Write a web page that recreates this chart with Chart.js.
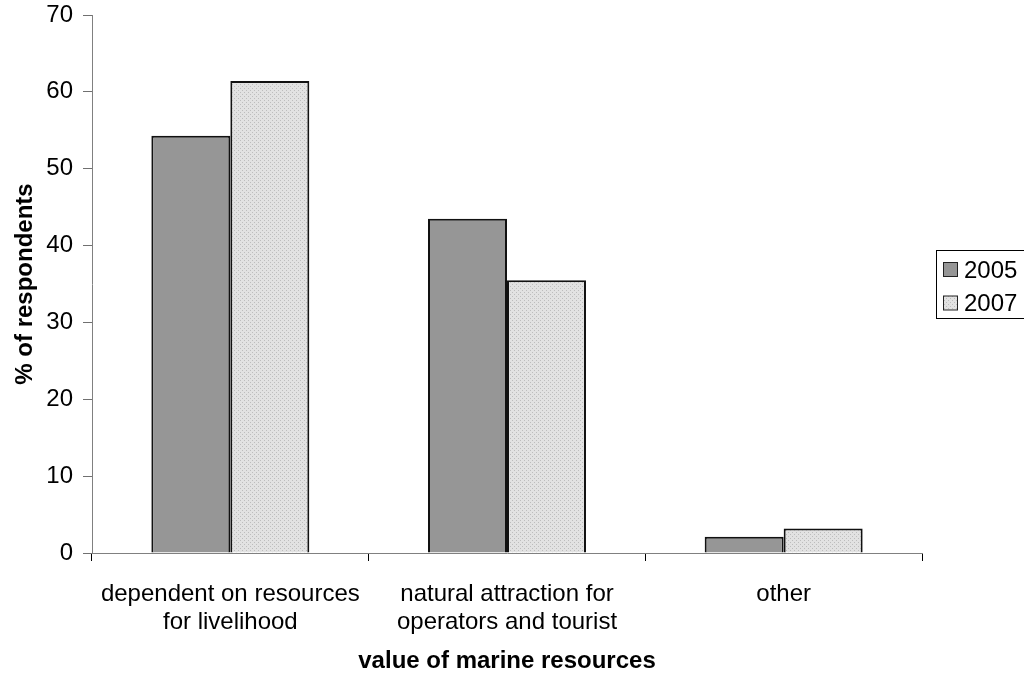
<!DOCTYPE html>
<html>
<head>
<meta charset="utf-8">
<title>value of marine resources</title>
<script src="https://cdn.jsdelivr.net/npm/chart.js@4/dist/chart.umd.min.js"></script>
<style>
  html, body { margin: 0; padding: 0; background: #ffffff; }
  #wrap { width: 1024px; height: 674px; }
</style>
</head>
<body>
<div id="wrap"><canvas id="chart" width="1024" height="674"></canvas></div>
<script>
// Categories (multi-line tick labels) and survey results per year
const categories = [
  ["dependent on resources", "for livelihood"],
  ["natural attraction for", "operators and tourist"],
  "other"
];
const seriesNames = ["2005", "2007"];
const values2005 = [54.3, 43.5, 2.1];
const values2007 = [61.4, 35.5, 3.2];
const yTicks = [0, 10, 20, 30, 40, 50, 60, 70];

const FONT = "'Liberation Sans', Arial, Helvetica, sans-serif";

// Fine dotted light-grey fill for the 2007 bars
function dottedPattern() {
  const c = document.createElement('canvas');
  c.width = 4; c.height = 4;
  const g = c.getContext('2d');
  g.fillStyle = '#e2e2e2';
  g.fillRect(0, 0, 4, 4);
  g.fillStyle = '#bdbdbd';
  g.fillRect(0, 0, 1, 1);
  g.fillRect(2, 2, 1, 1);
  return g.createPattern(c, 'repeat');
}
const fill2007 = dottedPattern();
const fill2005 = '#969696';

// Boxed legend at the right edge
const boxedLegend = {
  id: 'boxedLegend',
  afterDraw(chart) {
    const ctx = chart.ctx;
    const x0 = 936.5, y0 = 250.5, w = 100, h = 68;
    ctx.save();
    ctx.strokeStyle = '#000';
    ctx.lineWidth = 1;
    ctx.strokeRect(x0, y0, w, h);
    ctx.font = '24px ' + FONT;
    ctx.textBaseline = 'alphabetic';
    ctx.textAlign = 'left';
    chart.data.datasets.forEach((ds, i) => {
      const sy = 262.5 + i * 33.5;
      ctx.fillStyle = ds.backgroundColor;
      ctx.fillRect(943.5, sy, 14, 14);
      ctx.strokeStyle = '#222';
      ctx.strokeRect(943.5, sy, 14, 14);
      ctx.fillStyle = '#000';
      ctx.fillText(ds.label, 964, sy + 15);
    });
    ctx.restore();
  }
};

new Chart(document.getElementById('chart'), {
  type: 'bar',
  data: {
    labels: categories,
    datasets: [
      { label: seriesNames[0], data: values2005, backgroundColor: fill2005,
        borderColor: '#111', borderWidth: 2 },
      { label: seriesNames[1], data: values2007, backgroundColor: fill2007,
        borderColor: '#111', borderWidth: 2 }
    ]
  },
  options: {
    responsive: false,
    animation: false,
    devicePixelRatio: 1,
    layout: { padding: { top: 15, right: 102, left: 0, bottom: 0 } },
    datasets: { bar: { categoryPercentage: 0.571, barPercentage: 1.0 } },
    plugins: {
      legend: { display: false },
      tooltip: { enabled: false }
    },
    scales: {
      x: {
        offset: true,
        afterFit(s) { s.height = 121; s.paddingLeft = 0; s.paddingRight = 0; },
        grid: {
          offset: true,
          drawOnChartArea: false,
          drawTicks: true,
          tickLength: 8,
          tickColor: '#000',
          color: '#000'
        },
        border: { display: true, color: '#808080', width: 1 },
        ticks: {
          color: '#000',
          padding: 19,
          maxRotation: 0,
          autoSkip: false,
          font: { family: FONT, size: 24, lineHeight: 1.18 }
        },
        title: {
          display: true,
          text: 'value of marine resources',
          color: '#000',
          padding: { top: 0, bottom: 1 },
          font: { family: FONT, size: 24, weight: 'bold', lineHeight: 1 }
        }
      },
      y: {
        min: 0,
        max: 70,
        afterFit(s) { s.width = 92; s.paddingTop = 0; s.paddingBottom = 0; },
        afterBuildTicks(s) { s.ticks = yTicks.map(v => ({ value: v })); },
        grid: {
          drawOnChartArea: false,
          drawTicks: true,
          tickLength: 9,
          tickColor: '#707070'
        },
        border: { display: true, color: '#808080', width: 1 },
        ticks: {
          color: '#000',
          padding: 10,
          font: { family: FONT, size: 24 }
        },
        title: {
          display: true,
          text: '% of respondents',
          color: '#000',
          padding: { top: 13, bottom: 0 },
          font: { family: FONT, size: 24, weight: 'bold', lineHeight: 1 }
        }
      }
    }
  },
  plugins: [boxedLegend]
});
</script>
</body>
</html>
